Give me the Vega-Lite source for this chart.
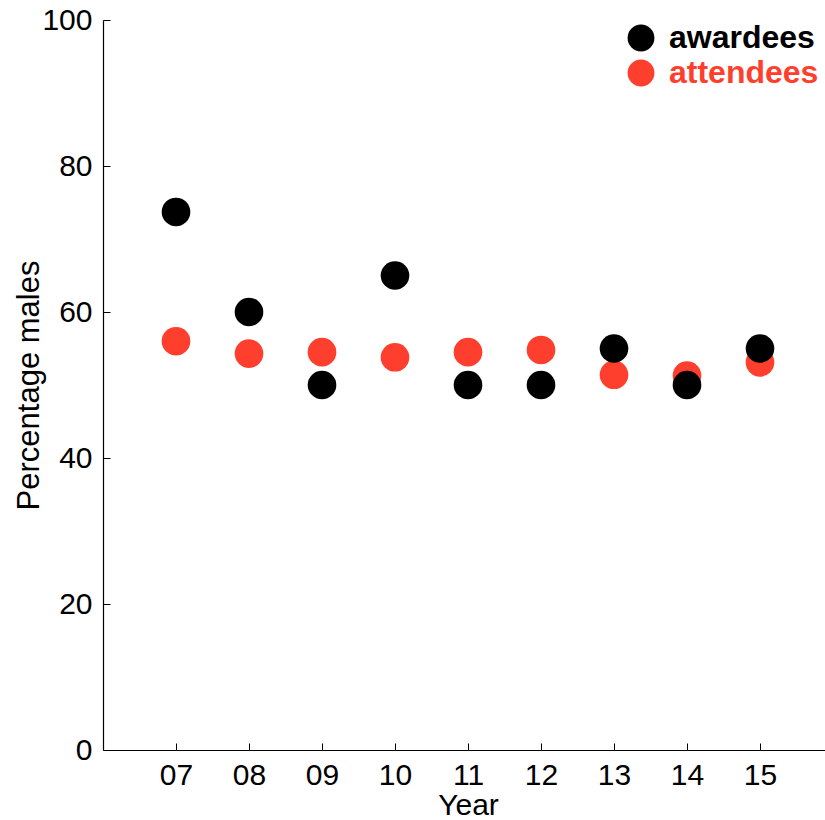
{
  "$schema": "https://vega.github.io/schema/vega-lite/v6.json",
  "width": 730,
  "height": 730,
  "autosize": "none",
  "padding": {"left": 103, "top": 20, "right": 0, "bottom": 70},
  "background": "white",
  "config": {
    "view": {"stroke": null},
    "font": "Liberation Sans",
    "axis": {
      "grid": false,
      "domainColor": "#000000",
      "domainWidth": 1.2,
      "tickColor": "#000000",
      "tickWidth": 1,
      "tickSize": -7,
      "labelFont": "Liberation Sans",
      "labelFontSize": 30,
      "labelColor": "#000000",
      "titleFont": "Liberation Sans",
      "titleFontSize": 31,
      "titleFontWeight": "normal",
      "titleColor": "#000000"
    }
  },
  "data": {
    "values": [
      {"year": 7, "group": "attendees", "pct": 56.0},
      {"year": 8, "group": "attendees", "pct": 54.3},
      {"year": 9, "group": "attendees", "pct": 54.5},
      {"year": 10, "group": "attendees", "pct": 53.8},
      {"year": 11, "group": "attendees", "pct": 54.5},
      {"year": 12, "group": "attendees", "pct": 54.8},
      {"year": 13, "group": "attendees", "pct": 51.4},
      {"year": 14, "group": "attendees", "pct": 51.3},
      {"year": 15, "group": "attendees", "pct": 53.1},
      {"year": 7, "group": "awardees", "pct": 73.7},
      {"year": 8, "group": "awardees", "pct": 60},
      {"year": 9, "group": "awardees", "pct": 50},
      {"year": 10, "group": "awardees", "pct": 65},
      {"year": 11, "group": "awardees", "pct": 50},
      {"year": 12, "group": "awardees", "pct": 50},
      {"year": 13, "group": "awardees", "pct": 55},
      {"year": 14, "group": "awardees", "pct": 50},
      {"year": 15, "group": "awardees", "pct": 55}
    ]
  },
  "mark": {"type": "circle", "opacity": 1, "size": 820},
  "encoding": {
    "x": {
      "field": "year",
      "type": "quantitative",
      "scale": {"domain": [6, 16], "nice": false, "zero": false},
      "axis": {
        "values": [7, 8, 9, 10, 11, 12, 13, 14, 15],
        "labelExpr": "datum.value < 10 ? '0' + datum.value : '' + datum.value",
        "labelPadding": 17,
        "title": "Year",
        "titleFontSize": 30,
        "titlePadding": 0
      }
    },
    "y": {
      "field": "pct",
      "type": "quantitative",
      "scale": {"domain": [0, 100], "nice": false},
      "axis": {
        "values": [0, 20, 40, 60, 80, 100],
        "labelPadding": 18,
        "title": "Percentage males",
        "titlePadding": -4
      }
    },
    "color": {
      "field": "group",
      "type": "nominal",
      "scale": {"domain": ["awardees", "attendees"], "range": ["#000000", "#FF3F2E"]},
      "legend": {
        "title": null,
        "orient": "none",
        "legendX": 522,
        "legendY": 2,
        "padding": 0,
        "symbolType": "circle",
        "symbolSize": 720,
        "symbolOpacity": 1,
        "symbolStrokeWidth": 0,
        "labelFont": "Liberation Sans",
        "labelFontSize": 32,
        "labelFontWeight": "bold",
        "labelOffset": 12,
        "rowPadding": 3,
        "labelLimit": 400,
        "encode": {
          "labels": {
            "update": {
              "fill": {"signal": "datum.value === 'awardees' ? '#000000' : '#FF3F2E'"}
            }
          }
        }
      }
    }
  }
}
